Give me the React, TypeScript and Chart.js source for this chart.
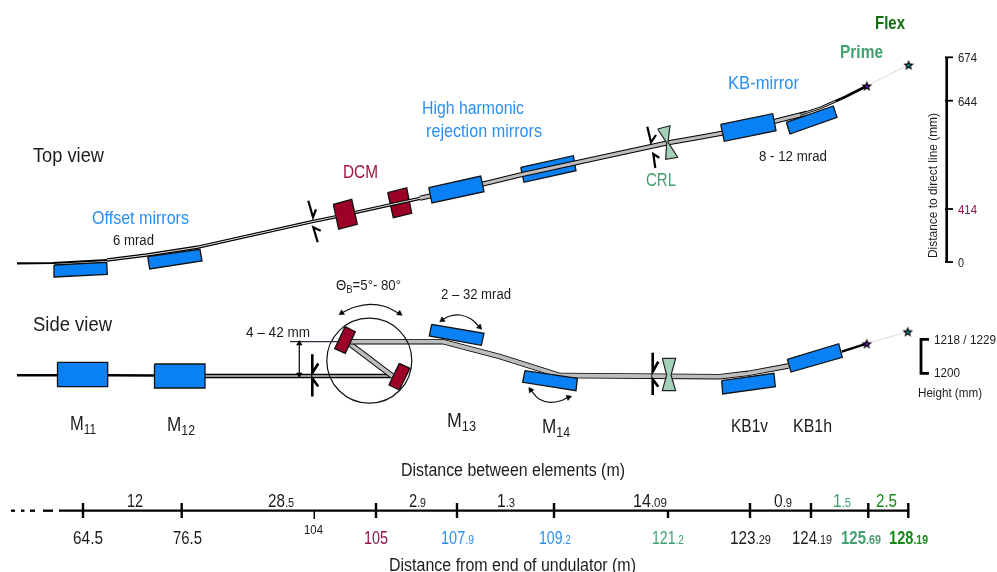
import React, { useEffect, useRef } from "react";
import { Chart, registerables } from "chart.js";

Chart.register(...registerables);

type Pt = [number, number];

const BLUE = "#0a80f5";
const MAROON = "#9b0026";
const TXT_BLUE = "#2b8ff2";
const TXT_MAROON = "#a0143c";
const TXT_PLUM = "#8c1450";
const TXT_SEA = "#43a070";
const TXT_FLEX = "#0f6e0f";
const TXT_GREEN = "#168a16";
const INK = "#1c1c1c";

// ---- top view ----
const topBeamThin: Pt[] = [[17, 263.3], [53, 263], [107, 260]];
const topBeamDouble: Pt[] = [[107, 260], [147, 255], [197, 247.3], [312, 221.7], [333, 217.3], [420, 198.3]];
const topBeamWide: Pt[] = [[420, 198.3], [483, 184], [520, 175], [576, 162.7], [667, 143], [700, 137.3], [721.7, 133.3], [773, 121.7], [806.7, 113.3]];
const topBeamEnd: Pt[] = [[800, 114.5], [820, 108], [845, 97], [866.7, 86]];
const topBeamEndCore: Pt[] = [[800, 114.5], [820, 108], [836, 101]];
const topFaint: Pt[] = [[866.7, 86], [908.3, 65]];
const topM11: Pt[] = [[54, 265], [106.7, 262.3], [107.3, 274.3], [54.3, 277]];
const topM12: Pt[] = [[147.7, 256.7], [200, 249.3], [202, 261], [149.7, 269]];
const topDcm1: Pt[] = [[333.3, 204.3], [351.7, 199.3], [357.3, 224.3], [338.7, 229.3]];
const topDcm2: Pt[] = [[387.7, 192.7], [406.7, 187.7], [411.7, 213.3], [393.3, 217.7]];
const topHhr1: Pt[] = [[428.7, 187.7], [480.7, 176], [484, 191.7], [432, 203]];
const topHhr2: Pt[] = [[520.7, 167.3], [573.3, 155.7], [576, 170.7], [524, 182.3]];
const topKb1: Pt[] = [[720.7, 124.3], [772.7, 113.7], [776, 130.7], [724.3, 141.3]];
const topKb2: Pt[] = [[786.3, 122.3], [833.3, 106], [837, 117.3], [790, 134]];
const topCrl: Pt[] = [[657.7, 129], [670, 125.7], [668, 142], [677.7, 157.3], [665.7, 159.3], [666.7, 143]];
const topSlits: Pt[][] = [
  [[308.3, 200.7], [313, 217.3], [316, 209.3]],
  [[317.7, 242.3], [313.3, 227.3], [320.7, 230.7]],
  [[647.3, 126.7], [651, 142.3], [656, 135]],
  [[655.3, 168], [653.3, 154], [659.3, 157.7]],
];

// ---- side view ----
const sideBeamIn: Pt[] = [[17, 375.3], [108, 375.3], [155, 375.5]];
const sideBeamLow: Pt[] = [[205, 376], [393, 376]];
const sideBeamDiag: Pt[] = [[350, 344], [393.3, 376.7]];
const sideBeamMain: Pt[] = [[350, 341.7], [443, 341.7], [500, 356.7], [560, 375.5], [720, 376.7], [748.3, 373.3], [788.3, 366]];
const sideBeamOut: Pt[] = [[841.7, 351.7], [866.7, 343.7]];
const sideFaint: Pt[] = [[866.7, 343.7], [907.7, 331.7]];
const sideM11: Pt[] = [[57.5, 362.3], [107.7, 362.3], [107.7, 386.7], [57.5, 386.7]];
const sideM12: Pt[] = [[154.5, 364], [205, 364], [205, 388], [154.5, 388]];
const sideDcm1: Pt[] = [[345, 326.7], [355.3, 331.7], [345.3, 353.3], [334.7, 348.7]];
const sideDcm2: Pt[] = [[399.3, 363.3], [410, 368.3], [399.3, 390], [389, 385]];
const sideM13: Pt[] = [[431.7, 324.3], [484, 333.3], [481.3, 345.3], [429.3, 336]];
const sideM14: Pt[] = [[525, 370.7], [577.3, 378.3], [576, 390.7], [522.7, 382.3]];
const sideKb1v: Pt[] = [[721.7, 380.7], [774, 373.3], [775.3, 386.7], [722.7, 394]];
const sideKb1h: Pt[] = [[787.3, 359.3], [838.7, 343.7], [842.3, 357.3], [791, 372]];
const sideCrl: Pt[] = [[662.3, 358.3], [675.7, 358.3], [671, 375], [675.7, 390.7], [662.3, 390.7], [666.7, 375]];
const sideSlits: Pt[][] = [
  [[312.3, 354.3], [312.3, 373], [318.3, 363.5]],
  [[312.3, 396.5], [312.3, 378.5], [318.3, 386.5]],
  [[652.7, 352.7], [652.7, 371.7], [658.3, 361.7]],
  [[652.7, 395], [652.7, 379.3], [658.3, 386.7]],
];
const gapLevel: Pt[] = [[290, 341.7], [340, 341.7]];
const gapArrow: Pt[] = [[299.3, 344], [299.3, 374]];
const arcs: Pt[][] = [
  [[342.5, 312.5], [355, 307], [370, 304.3], [385, 306.5], [398.5, 313]],
  [[443, 319.5], [450, 316], [460, 315], [471, 319], [478.5, 326]],
  [[531.5, 391], [539, 399], [550, 402.3], [560, 401], [567.5, 397.5]],
];
const arrowPts: Pt[] = [[341.7, 313], [399.5, 313.5], [442.3, 320], [479.5, 327], [530.7, 390], [568.5, 397.3], [299.3, 343.5], [299.3, 374.5]];
const arrowTurns = [235, 125, 235, 135, 325, 70, 0, 180];
const dcmCircle: Pt[] = [[369.3, 360.7]];
const starsPrime: Pt[] = [[866.8, 86], [866.7, 343.7]];
const starsFlex: Pt[] = [[908.6, 65], [907.7, 331.7]];

// ---- right-hand scales ----
const distRail: Pt[] = [[946.7, 57.3], [946.7, 262]];
const distTicks = [57.3, 100.7, 209, 262];
const heightBracket: Pt[] = [[929, 339.3], [921, 339.3], [921, 373.3], [929, 373.3]];

// ---- distance ruler ----
const rulerY = 510.7;
const rulerDashes: Pt[][] = [[[11, rulerY], [15, rulerY]], [[21, rulerY], [24.5, rulerY]], [[30, rulerY], [35, rulerY]], [[43, rulerY], [53, rulerY]]];
const rulerLine: Pt[] = [[59, rulerY], [909, rulerY]];
const rulerMajor = [83, 181.7, 376, 457, 554, 750, 811, 868.3, 908.3];
const rulerDown = [668];
const rulerHair = [314.3];

// ---- text: [runs, left, right, centre y, size, colour, bold] ; run kinds: s = small on baseline, b = subscript ----
type Run = [string, "n" | "s" | "b"];
type Label = [Run[], number, number, number, number, string, boolean?];
const n = (t: string): Run => ["" + t, "n"];
const s = (t: string): Run => [t, "s"];
const b = (t: string): Run => [t, "b"];

const viewLabels: Label[] = [
  [[n("Flex")], 875, 905, 23, 18, TXT_FLEX, true],
  [[n("Prime")], 840, 883, 52, 18, TXT_SEA, true],
  [[n("KB-mirror")], 728, 799, 82, 19, TXT_BLUE],
  [[n("8 - 12 mrad")], 759, 827, 155, 15.5, INK],
  [[n("High harmonic")], 422, 524, 107, 19, TXT_BLUE],
  [[n("rejection mirrors")], 426, 542, 130, 19, TXT_BLUE],
  [[n("CRL")], 646, 676, 179, 19, TXT_SEA],
  [[n("Top view")], 33, 104, 155, 20, INK],
  [[n("DCM")], 343, 378, 171, 19, TXT_MAROON],
  [[n("Offset mirrors")], 92, 189, 217, 19, TXT_BLUE],
  [[n("6 mrad")], 113, 154, 239, 15.5, INK],
  [[n("Side view")], 33, 112, 324, 20, INK],
  [[n("Θ"), b("B"), n("=5°- 80°")], 336, 401, 284, 15.5, INK],
  [[n("2 – 32 mrad")], 441, 511, 293, 15.5, INK],
  [[n("4 – 42 mm")], 246, 310, 331, 15.5, INK],
  [[n("M"), b("11")], 70, 96, 423, 20.5, INK],
  [[n("M"), b("12")], 167, 195, 424, 20.5, INK],
  [[n("M"), b("13")], 447, 476, 420, 20.5, INK],
  [[n("M"), b("14")], 542, 570, 426, 20.5, INK],
  [[n("KB1v")], 731, 768, 425, 18.5, INK],
  [[n("KB1h")], 793, 832, 425, 18.5, INK],
];
const scaleLabels: Label[] = [
  [[n("674")], 958, 977, 57, 13.5, INK],
  [[n("644")], 958, 977, 100.7, 13.5, INK],
  [[n("414")], 958, 977, 209, 13.5, TXT_PLUM],
  [[n("0")], 958, 964, 262, 13.5, INK],
  [[n("1218 / 1229")], 934, 996, 339, 13.5, INK],
  [[n("1200")], 934, 960, 372, 13.5, INK],
  [[n("Height (mm)")], 918, 982, 392, 13.5, INK],
];
const spanLabels: Label[] = [
  [[n("Distance between elements (m)")], 401, 625, 470, 17.5, INK],
  [[n("12")], 127, 143, 500, 18.5, INK],
  [[n("28"), s(".5")], 268, 294, 500, 18.5, INK],
  [[n("2"), s(".9")], 409, 426, 500, 18.5, INK],
  [[n("1"), s(".3")], 497, 515, 500, 18.5, INK],
  [[n("14"), s(".09")], 633, 667, 500, 18.5, INK],
  [[n("0"), s(".9")], 774, 792, 500, 18.5, INK],
  [[n("1"), s(".5")], 833, 851, 500, 18.5, TXT_SEA],
  [[n("2.5")], 876, 897, 500, 18.5, TXT_GREEN],
];
const stationLabels: Label[] = [
  [[n("64.5")], 73, 103, 537, 18.5, INK],
  [[n("76.5")], 173, 202, 537, 18.5, INK],
  [[n("104")], 304, 323, 529, 13, INK],
  [[n("105")], 364, 388, 537, 18.5, TXT_PLUM],
  [[n("107"), s(".9")], 441, 474, 537, 18.5, TXT_BLUE],
  [[n("109"), s(".2")], 539, 571, 537, 18.5, TXT_BLUE],
  [[n("121"), s(".2")], 652, 684, 537, 18.5, TXT_SEA],
  [[n("123"), s(".29")], 730, 771, 537, 18.5, INK],
  [[n("124"), s(".19")], 792, 832, 537, 18.5, INK],
  [[n("125"), s(".69")], 841, 881, 537, 18.5, TXT_SEA, true],
  [[n("128"), s(".19")], 889, 928, 537, 18.5, TXT_GREEN, true],
  [[n("Distance from end of undulator (m)")], 389, 636, 565, 17.5, INK],
];
const axisTitle = "Distance to direct line (mm)";

const FONT = '"Liberation Sans", Arial, sans-serif';

function makeStar(centre: string) {
  const c = document.createElement("canvas");
  c.width = 12;
  c.height = 12;
  const g = c.getContext("2d")!;
  g.beginPath();
  for (let i = 0; i < 10; i++) {
    const r = i % 2 ? 2.4 : 5.6;
    const a = -Math.PI / 2 + (i * Math.PI) / 5;
    g.lineTo(6 + r * Math.cos(a), 6.4 + r * Math.sin(a));
  }
  g.closePath();
  g.fillStyle = "#000";
  g.fill();
  g.fillStyle = centre;
  g.fillRect(4.7, 5.1, 2.6, 2.6);
  return c;
}

const xy = (p: Pt[]) => p.map(([x, y]) => ({ x, y }));
const line = (p: Pt[], color: string, width: number, extra: object = {}) => ({
  data: xy(p),
  showLine: true,
  borderColor: color,
  borderWidth: width,
  pointRadius: 0,
  fill: false,
  tension: 0,
  borderCapStyle: "butt",
  borderJoinStyle: "miter",
  ...extra,
});
const poly = (p: Pt[], color: string, edge = "#111", width = 1.3) => ({
  ...line([...p, p[0]], edge, width),
  fill: "shape",
  backgroundColor: color,
});

function drawLabel(ctx: CanvasRenderingContext2D, chart: any, l: Label) {
  const [runs, x0, x1, yc, size, color, bold] = l;
  const px0 = chart.scales.x.getPixelForValue(x0);
  const px1 = chart.scales.x.getPixelForValue(x1);
  const py = chart.scales.y.getPixelForValue(yc);
  const font = (k: string) => `${bold ? "bold " : ""}${k === "n" ? size : size * 0.72}px ${FONT}`;
  let total = 0;
  for (const [t, k] of runs) {
    ctx.font = font(k);
    total += ctx.measureText(t).width;
  }
  ctx.save();
  ctx.translate(px0, py + size * 0.358);
  ctx.scale((px1 - px0) / total, 1);
  ctx.fillStyle = color;
  ctx.textAlign = "left";
  ctx.textBaseline = "alphabetic";
  let at = 0;
  for (const [t, k] of runs) {
    ctx.font = font(k);
    ctx.fillText(t, at, k === "b" ? size * 0.2 : 0);
    at += ctx.measureText(t).width;
  }
  ctx.restore();
}

const labelPlugin = {
  id: "labels",
  afterDatasetsDraw(chart: any) {
    const ctx = chart.ctx as CanvasRenderingContext2D;
    [...viewLabels, ...scaleLabels, ...spanLabels, ...stationLabels].forEach((l) => drawLabel(ctx, chart, l));
    ctx.save();
    ctx.translate(chart.scales.x.getPixelForValue(933), chart.scales.y.getPixelForValue(185.5));
    ctx.rotate(-Math.PI / 2);
    ctx.font = `13px ${FONT}`;
    ctx.fillStyle = INK;
    ctx.textAlign = "center";
    ctx.textBaseline = "middle";
    const w = ctx.measureText(axisTitle).width;
    ctx.scale(145 / w, 1);
    ctx.fillText(axisTitle, 0, 0);
    ctx.restore();
  },
};

export default function App() {
  const ref = useRef<HTMLCanvasElement>(null);
  useEffect(() => {
    const layers: any[] = [
      // under the beam
      poly(topHhr2, BLUE),
      poly(topDcm2, MAROON),
      poly(topKb2, BLUE),
      // top beam
      line(topFaint, "#d9d9d9", 1),
      line(topBeamThin, "#000", 2.2),
      line(topBeamDouble, "#000", 3.4),
      line(topBeamDouble, "#e4e4e4", 1),
      line(topBeamWide, "#000", 5),
      line(topBeamWide, "#bdbdbd", 3),
      line(topBeamEnd, "#000", 2.6),
      line(topBeamEndCore, "#bdbdbd", 1),
      // boxes over top beam
      poly(topM11, BLUE),
      poly(topM12, BLUE),
      poly(topDcm1, MAROON),
      poly(topHhr1, BLUE),
      poly(topKb1, BLUE),
      poly(topCrl, "#a3d1b8", "#222", 1.2),
      ...topSlits.map((p) => line(p, "#000", 2.2)),
      // side beam
      line(sideFaint, "#d9d9d9", 1),
      line(sideBeamIn, "#000", 2.4),
      line(sideBeamLow, "#000", 4.4),
      line(sideBeamLow, "#9a9a9a", 2),
      line(sideBeamDiag, "#000", 5.6),
      line(sideBeamDiag, "#bdbdbd", 3.8),
      line(sideBeamMain, "#000", 5.4),
      line(sideBeamMain, "#bdbdbd", 3.8),
      line(sideBeamOut, "#000", 2.4),
      {
        data: xy(dcmCircle),
        showLine: false,
        pointRadius: 42.5,
        pointBorderWidth: 1.2,
        pointBorderColor: "#111",
        pointBackgroundColor: "rgba(0,0,0,0)",
      },
      poly(sideM11, BLUE),
      poly(sideM12, BLUE),
      poly(sideDcm1, MAROON),
      poly(sideDcm2, MAROON),
      poly(sideM13, BLUE),
      poly(sideM14, BLUE),
      poly(sideKb1v, BLUE),
      poly(sideKb1h, BLUE),
      poly(sideCrl, "#a3d1b8", "#222", 1.2),
      ...sideSlits.map((p) => line(p, "#000", 2.6)),
      line(gapLevel, "#2a3040", 1.2),
      line(gapArrow, "#000", 1.2),
      ...arcs.map((p) => line(p, "#111", 1.2, { tension: 0.4 })),
      {
        data: xy(arrowPts),
        showLine: false,
        pointStyle: "triangle",
        pointRadius: 3.2,
        pointRotation: arrowTurns,
        pointBackgroundColor: "#000",
        pointBorderColor: "#000",
        pointBorderWidth: 0.5,
      },
      { data: xy(starsPrime), showLine: false, pointStyle: makeStar("#6a10b0"), pointRadius: 6 },
      { data: xy(starsFlex), showLine: false, pointStyle: makeStar("#0f8a8a"), pointRadius: 6 },
      // right scales
      line(distRail, "#000", 2.6),
      ...distTicks.map((y) => line([[945, y], [953, y]], "#000", 1.8)),
      line(heightBracket, "#000", 2.8),
      // ruler
      ...rulerDashes.map((p) => line(p, "#000", 2.3)),
      line(rulerLine, "#000", 2.3),
      ...rulerMajor.map((x) => line([[x, 503], [x, 518]], "#000", 2.4)),
      ...rulerDown.map((x) => line([[x, rulerY], [x, 518]], "#000", 2.4)),
      ...rulerHair.map((x) => line([[x, rulerY], [x, 519]], "#000", 1)),
    ];
    const total = layers.length;
    layers.forEach((d, i) => (d.order = total - i));

    const chart = new Chart(ref.current!, {
      type: "scatter",
      data: { datasets: layers },
      options: {
        animation: false,
        responsive: false,
        events: [],
        layout: { autoPadding: false, padding: 0 },
        scales: {
          x: { type: "linear", min: 0, max: 997, display: false },
          y: { type: "linear", min: 0, max: 572, reverse: true, display: false },
        },
        plugins: { legend: { display: false }, tooltip: { enabled: false }, title: { display: false } },
      },
      plugins: [labelPlugin],
    } as any);
    return () => chart.destroy();
  }, []);
  return (
    <div style={{ position: "fixed", left: 0, top: 0, width: 997, height: 572, background: "#fff" }}>
      <canvas ref={ref} width={997} height={572} style={{ display: "block" }} />
    </div>
  );
}
